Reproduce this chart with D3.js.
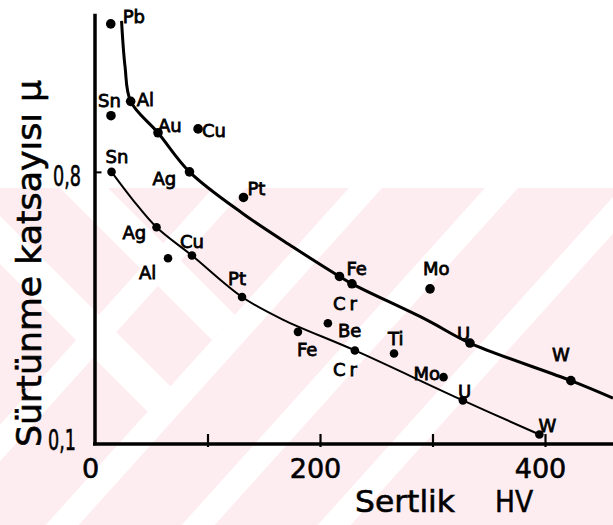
<!DOCTYPE html>
<html>
<head>
<meta charset="utf-8">
<script src="https://cdn.jsdelivr.net/npm/d3@7"></script>
<style>
body { margin: 0; background: #fff; }
svg { display: block; font-family: "DejaVu Sans", sans-serif; }
</style>
</head>
<body>
<div id="chart"></div>
<script>
// metals on the upper (thick) curve group
var upperNames = ["Pb", "Sn", "Al", "Au", "Cu", "Ag", "Pt", "Fe", "Cr", "Mo", "U", "W"];
var upperHV    = [14, 14.2, 31.7, 56, 91.6, 84, 132, 217.3, 228.4, 297.8, 333.3, 423];
var upperMu    = [1.182, 0.945, 0.982, 0.901, 0.911, 0.8, 0.734, 0.53, 0.511, 0.498, 0.358, 0.261];

// metals on the lower (thin) curve group
var lowerNames = ["Sn", "Ag", "Al", "Cu", "Pt", "Fe", "Be", "Cr", "Ti", "Mo", "U", "W"];
var lowerHV    = [14.7, 54.7, 64.9, 86.2, 130.7, 180.4, 207, 231, 265.8, 309.8, 327, 395];
var lowerMu    = [0.8, 0.657, 0.577, 0.584, 0.477, 0.387, 0.409, 0.339, 0.331, 0.27, 0.21, 0.122];

// the hand drawn curves (HV, mu)
var upperCurveHV = [23.6, 26.7, 31.7, 56, 84, 131.6, 176, 217.3, 228.4, 294.8, 333.3, 423, 460.4];
var upperCurveMu = [1.19, 1.072, 0.982, 0.901, 0.8, 0.692, 0.606, 0.53, 0.511, 0.418, 0.358, 0.261, 0.216];
var lowerCurveHV = [14.7, 33.6, 54.7, 86.2, 130.7, 167.4, 231, 327, 395];
var lowerCurveMu = [0.8, 0.728, 0.657, 0.584, 0.477, 0.418, 0.339, 0.21, 0.122];

// axis ticks
var xTicks = [0, 100, 200, 300, 400];
var xTickLabels = ["0", "", "200", "", "400"];
var yTicks = [0.1, 0.8];
var yTickLabels = ["0,1", "0,8"];

var xTitle = "Sertlik";
var xUnit = "HV";
var yTitle = "Sürtünme katsayısı μ";

// where each label sits relative to its dot (dx to text start, dy to baseline)
var labelPos = {
  up: { Pb: [12, -1], Sn: [-13, -9], Al: [6, 5], Au: [0, -1], Cu: [4, 8], Ag: [-37, 13],
        Pt: [4, -2], Fe: [7, -1], Cr: [-19, 26], Mo: [-7, -14], U: [-13, -3], W: [-19, -20] },
  low: { Sn: [-6, -9], Ag: [-34, 12], Al: [-29, 21], Cu: [-12, -8], Pt: [-14, -12], Fe: [-1, 24],
         Be: [10, 14], Cr: [-22, 26], Ti: [-6, -9], Mo: [-30, 3], U: [-5, -2], W: [-1, -2] }
};

var width = 613, height = 525;

var svg = d3.select("#chart").append("svg")
    .attr("width", width)
    .attr("height", height);

// faint pink diagonal watermark of the scan
var wmTop = 188, slant = 0.9, band = 33;
var wm = svg.append("g").attr("class", "watermark");
wm.append("rect").attr("x", 0).attr("y", wmTop).attr("width", width).attr("height", height - wmTop)
    .attr("fill", "#fdedf0");
var dy = height - wmTop;
for (var k = -1; k < 3; k++) {
  var x0 = 349 + k * 136;
  wm.append("polygon")
      .attr("points", [[x0, wmTop], [x0 + band, wmTop], [x0 + band - slant * dy, height], [x0 - slant * dy, height]].join(" "))
      .attr("fill", "#fff");
}
// "\" legs only left of the first "/" band
svg.append("clipPath").attr("id", "wmclip").append("polygon")
    .attr("points", [[0, wmTop], [349, wmTop], [349 - slant * dy, height], [0, height]].join(" "));
var legs = wm.append("g").attr("clip-path", "url(#wmclip)");
[60, -76].forEach(function(s) {
  legs.append("polygon")
      .attr("points", [[s, wmTop], [s + 48, wmTop], [s + 48 + 300, wmTop + 300], [s + 300, wmTop + 300]].join(" "))
      .attr("fill", "#fff");
});

var x = d3.scaleLinear().domain([0, 460]).range([95, 612.5]);
var y = d3.scaleLinear().domain([0.1, 1.205]).range([443, 15]);

// axes
var xAxis = d3.axisBottom(x)
    .tickValues(xTicks)
    .tickFormat(function(d, i) { return xTickLabels[i]; })
    .tickSize(-10)
    .tickSizeOuter(0)
    .tickPadding(15);

var gx = svg.append("g").attr("transform", "translate(0,444)").call(xAxis);
gx.select(".domain").attr("stroke", "#000").attr("stroke-width", 3.5).attr("d", "M93,0H613");
gx.selectAll(".tick line").attr("stroke", "#000").attr("stroke-width", 2.2).attr("y1", 3)
    .filter(function(d) { return d === 0; }).remove();
gx.selectAll(".tick text")
    .attr("x", -5)
    .attr("fill", "#000")
    .attr("stroke", "#000")
    .attr("stroke-width", 0.6)
    .style("font-size", "27px")
    .style("font-family", "'DejaVu Sans', sans-serif");

var yAxis = d3.axisLeft(y)
    .tickValues(yTicks)
    .tickFormat(function(d, i) { return yTickLabels[i]; })
    .tickSize(-7)
    .tickSizeOuter(0);

var gy = svg.append("g").attr("transform", "translate(94.5,0)").call(yAxis);
gy.select(".domain").attr("stroke", "#000").attr("stroke-width", 3.5).attr("stroke-linecap", "square");
gy.selectAll(".tick line").attr("stroke", "#000").attr("stroke-width", 2)
    .filter(function(d) { return d === 0.1; }).remove();
gy.selectAll(".tick text")
    .attr("fill", "#000")
    .attr("stroke", "#000")
    .attr("stroke-width", 0.6)
    .attr("text-anchor", "end")
    .attr("x", function(d) { return d === 0.8 ? -13.5 : -18.5; })
    .attr("y", function(d) { return d === 0.8 ? 14 : 6; })
    .attr("dy", null)
    .attr("textLength", 28)
    .attr("lengthAdjust", "spacingAndGlyphs")
    .style("font-size", "28px")
    .style("font-family", "'DejaVu Sans', sans-serif");

// axis titles
svg.append("text")
    .attr("transform", "translate(41,447) rotate(-90)")
    .attr("textLength", 367)
    .attr("lengthAdjust", "spacingAndGlyphs")
    .style("font-size", "34px")
    .attr("fill", "#000")
    .attr("stroke", "#000")
    .attr("stroke-width", 0.6)
    .text(yTitle);

svg.append("text")
    .attr("x", 355).attr("y", 512)
    .attr("textLength", 100)
    .attr("lengthAdjust", "spacingAndGlyphs")
    .style("font-size", "31px")
    .attr("fill", "#000")
    .attr("stroke", "#000")
    .attr("stroke-width", 0.6)
    .text(xTitle);

svg.append("text")
    .attr("x", 495).attr("y", 512)
    .attr("textLength", 38)
    .attr("lengthAdjust", "spacingAndGlyphs")
    .style("font-size", "31px")
    .attr("fill", "#000")
    .attr("stroke", "#000")
    .attr("stroke-width", 0.6)
    .text(xUnit);

// curves
var line = d3.line()
    .x(function(d) { return x(d[0]); })
    .y(function(d) { return y(d[1]); })
    .curve(d3.curveCatmullRom.alpha(0.5));

svg.append("path")
    .datum(d3.zip(upperCurveHV, upperCurveMu))
    .attr("d", line)
    .attr("fill", "none")
    .attr("stroke", "#000")
    .attr("stroke-width", 3);

svg.append("path")
    .datum(d3.zip(lowerCurveHV, lowerCurveMu))
    .attr("d", line)
    .attr("fill", "none")
    .attr("stroke", "#000")
    .attr("stroke-width", 2);

// dots and labels
function drawGroup(key, names, hv, mu, r) {
  var data = names.map(function(n, i) { return { name: n, hv: hv[i], mu: mu[i] }; });
  var g = svg.append("g").attr("class", key);
  g.selectAll("circle")
      .data(data)
      .enter()
      .append("circle")
      .attr("cx", function(d) { return x(d.hv); })
      .attr("cy", function(d) { return y(d.mu); })
      .attr("r", r)
      .attr("fill", "#000");
  g.selectAll("text")
      .data(data)
      .enter()
      .append("text")
      .attr("x", function(d) { return x(d.hv) + labelPos[key][d.name][0]; })
      .attr("y", function(d) { return y(d.mu) + labelPos[key][d.name][1]; })
      .attr("fill", "#000")
      .attr("stroke", "#000")
      .attr("stroke-width", 0.8)
      .style("font-size", "18px")
      .style("letter-spacing", function(d) { return d.name === "Cr" ? "4px" : null; })
      .text(function(d) { return d.name; });
}

drawGroup("up", upperNames, upperHV, upperMu, 4.8);
drawGroup("low", lowerNames, lowerHV, lowerMu, 4.3);
</script>
</body>
</html>
